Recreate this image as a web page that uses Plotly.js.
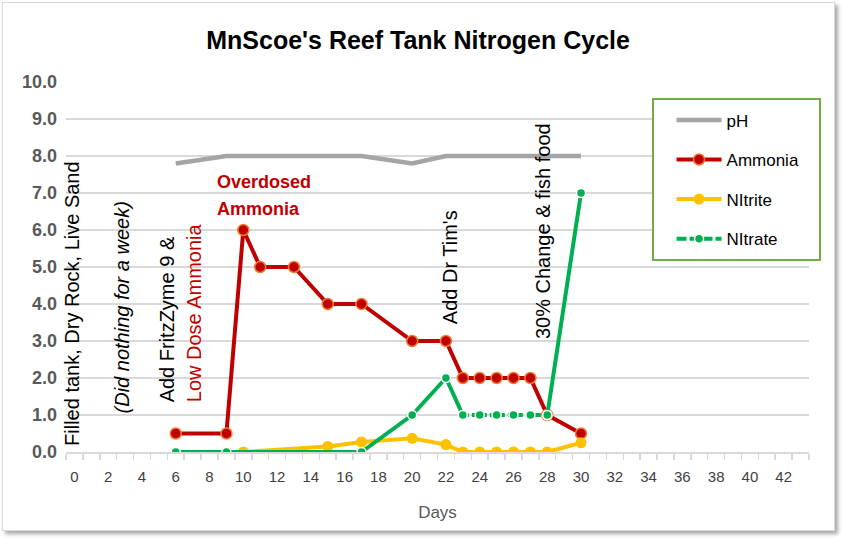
<!DOCTYPE html>
<html>
<head>
<meta charset="utf-8">
<script src="https://cdn.plot.ly/plotly-3.0.1.min.js"></script>
<style>
  html, body { margin:0; padding:0; background:#ffffff; }
  #frame { position:absolute; left:2px; top:2px; width:831px; height:527px; border:1px solid #d9d9d9; background:#fff; box-shadow:3px 3px 4px rgba(0,0,0,0.35); }
  #chart { position:absolute; left:0; top:0; width:848px; height:545px; }
</style>
</head>
<body>
<div id="frame"></div>
<div id="chart"></div>
<script>
// ---- data ----
const days = [6, 9, 10, 11, 13, 15, 17, 20, 22, 23, 24, 25, 26, 27, 28, 30];
const pH = [7.8, 8.0, 8.0, 8.0, 8.0, 8.0, 8.0, 7.8, 8.0, 8.0, 8.0, 8.0, 8.0, 8.0, 8.0, 8.0];
const ammonia = [0.5, 0.5, 6, 5, 5, 4, 4, 3, 3, 2, 2, 2, 2, 2, 1, 0.5];
const nitriteDays = [10, 15, 17, 20, 22, 23, 24, 25, 26, 27, 28, 30];
const nitrite = [0, 0.15, 0.27, 0.37, 0.2, 0, 0, 0, 0, 0, 0, 0.25];
const nitrateDaysA = [6, 9, 17, 20, 22, 23];
const nitrateA = [0, 0, 0, 1, 2, 1];
const nitrateDaysB = [23, 24, 25, 26, 27, 28];
const nitrateB = [1, 1, 1, 1, 1, 1];
const nitrateDaysC = [28, 30];
const nitrateC = [1, 7];
const xTicks = [0,2,4,6,8,10,12,14,16,18,20,22,24,26,28,30,32,34,36,38,40,42];

const FONT = 'Liberation Sans, Arial, sans-serif';
const green = '#00B050';
const nitrateMarker = {color: green, size: 9, line: {color: '#ffffff', width: 1.5}};

const traces = [
  {x: days, y: pH, name: 'pH', mode: 'lines', legendgroup: 'a',
   line: {color: '#A5A5A5', width: 4.5}},
  {x: days, y: ammonia, name: 'Ammonia', mode: 'lines+markers', legendgroup: 'b',
   line: {color: '#C00000', width: 4},
   marker: {color: '#C00000', size: 11, line: {color: '#ED7D31', width: 1.5}}},
  {x: nitriteDays, y: nitrite, name: 'NItrite', mode: 'lines+markers', legendgroup: 'c',
   line: {color: '#FFC000', width: 4},
   marker: {color: '#FFC000', size: 11}},
  {x: nitrateDaysA, y: nitrateA, name: 'NItrate', mode: 'lines+markers', legendgroup: 'd', showlegend: false,
   line: {color: green, width: 4}, marker: nitrateMarker},
  {x: nitrateDaysB, y: nitrateB, name: 'NItrate', mode: 'lines+markers', legendgroup: 'd', showlegend: false,
   line: {color: green, width: 4, dash: '6px,3px'}, marker: nitrateMarker},
  {x: nitrateDaysC, y: nitrateC, name: 'NItrate', mode: 'lines+markers', legendgroup: 'd', showlegend: false,
   line: {color: green, width: 4}, marker: nitrateMarker},
  {x: [null], y: [null], name: 'NItrate', mode: 'lines+markers', legendgroup: 'd',
   line: {color: green, width: 4, dash: '10px,3px'}, marker: nitrateMarker}
];

const vFont = {family: FONT, size: 20, color: '#000000'};
function vAnn(text, x, y, extra) {
  return Object.assign({text: text, x: x, y: y, xref: 'x', yref: 'y', showarrow: false,
    textangle: -90, xanchor: 'center', yanchor: 'bottom', font: vFont}, extra || {});
}

const layout = {
  width: 848, height: 545,
  paper_bgcolor: 'rgba(0,0,0,0)', plot_bgcolor: 'rgba(0,0,0,0)',
  margin: {l: 66, r: 39, t: 82, b: 93},
  font: {family: FONT},
  title: {text: "MnScoe's Reef Tank Nitrogen Cycle", x: 0.493, xanchor: 'center', y: 0.927, yanchor: 'middle',
          font: {family: FONT, size: 25, color: '#000000', weight: 'bold'}},
  xaxis: {range: [-0.5, 43.5], tickmode: 'array', tickvals: xTicks, ticks: '',
          showgrid: false, zeroline: false, showline: true, linecolor: '#d9d9d9', linewidth: 2,
          tickfont: {family: FONT, size: 15, color: '#404040'}, ticklabelstandoff: 10,
          minor: {ticks: 'outside', tickmode: 'linear', tick0: -0.5, dtick: 1, ticklen: 6,
                  tickcolor: '#d9d9d9', tickwidth: 1.5, showgrid: false},
          title: {text: 'Days', font: {family: FONT, size: 17, color: '#595959'}, standoff: 22}},
  yaxis: {range: [0, 10], tickmode: 'linear', tick0: 0, dtick: 1, tickformat: '.1f',
          showgrid: true, gridcolor: '#d9d9d9', gridwidth: 1.3, zeroline: false, showline: false, ticks: '',
          tickfont: {family: FONT, size: 18, color: '#595959', weight: 'bold'}, ticklabelstandoff: 8},
  showlegend: true,
  legend: {x: 0.815, xanchor: 'left', y: 0.945, yanchor: 'top', bgcolor: 'rgba(0,0,0,0)', itemwidth: 45,
           tracegroupgap: 14.5, font: {family: FONT, size: 17, color: '#000000'}},
  shapes: [
    {type: 'rect', xref: 'paper', yref: 'paper', layer: 'above',
     x0: (653 - 66) / 743, x1: (820 - 66) / 743, y0: (452 - 260) / 370, y1: (452 - 99) / 370,
     fillcolor: '#ffffff', line: {color: '#70AD47', width: 2}}
  ],
  annotations: [
    vAnn('Filled tank, Dry Rock, Live Sand', -0.15, 0.12),
    vAnn('<i>(Did nothing for a week)</i>', 2.8, 0.98),
    vAnn('Add FritzZyme 9 &amp;', 5.45, 1.3),
    vAnn('Low Dose Ammonia', 7.13, 1.3, {font: {family: FONT, size: 20, color: '#C00000'}}),
    vAnn("Add Dr Tim's", 22.24, 3.4),
    vAnn('30% Change &amp; fish food', 27.75, 3.0),
    {text: 'Overdosed', x: 8.3, y: 7.31, xref: 'x', yref: 'y', showarrow: false, xanchor: 'left', yanchor: 'middle',
     font: {family: FONT, size: 18, color: '#C00000', weight: 'bold'}},
    {text: 'Ammonia', x: 8.3, y: 6.58, xref: 'x', yref: 'y', showarrow: false, xanchor: 'left', yanchor: 'middle',
     font: {family: FONT, size: 18, color: '#C00000', weight: 'bold'}}
  ]
};

Plotly.newPlot('chart', traces, layout, {displayModeBar: false, staticPlot: true});
</script>
</body>
</html>
